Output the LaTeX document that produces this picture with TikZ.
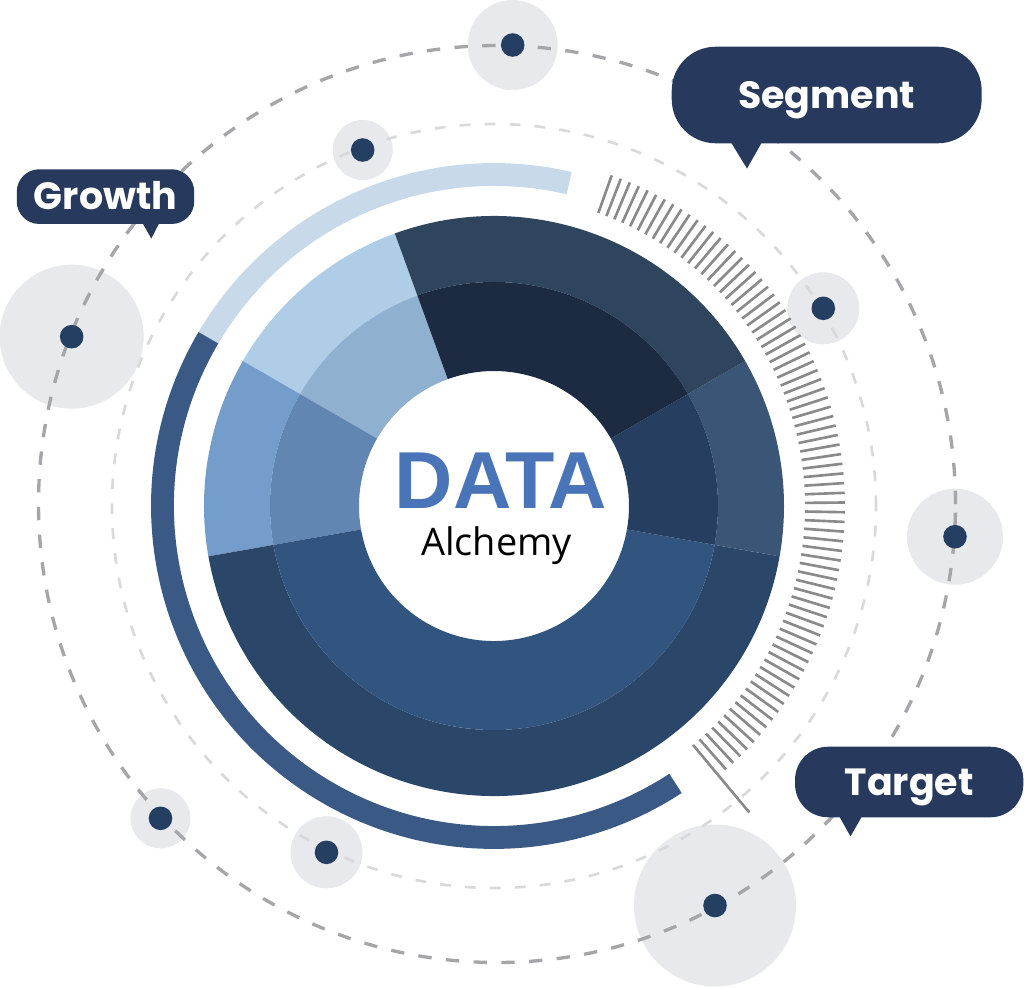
\documentclass[tikz,border=0pt]{standalone}
\usepackage{fontspec}
\usepackage{xcolor}
\usepackage{tikz}
\usetikzlibrary{positioning,calc}
\setmainfont{Open Sans}
\newfontfamily\datafont{Liberation Sans}
\newfontfamily\tagfont{Poppins}
\definecolor{navy}{RGB}{39, 58, 94}
\definecolor{dotblue}{RGB}{37, 63, 98}
\definecolor{bubblegray}{RGB}{232, 233, 237}
\definecolor{dashdark}{RGB}{166, 166, 170}
\definecolor{dashlight}{RGB}{217, 217, 220}
\definecolor{tickgray}{RGB}{138, 138, 138}
\definecolor{arclight}{RGB}{200, 218, 234}
\definecolor{arcdark}{RGB}{58, 90, 133}
\definecolor{datablue}{RGB}{74, 116, 184}
\definecolor{segAo}{RGB}{175, 205, 231}
\definecolor{segAi}{RGB}{143, 176, 207}
\definecolor{segBo}{RGB}{116, 157, 203}
\definecolor{segBi}{RGB}{97, 134, 178}
\definecolor{segCo}{RGB}{42, 70, 105}
\definecolor{segCi}{RGB}{50, 85, 127}
\definecolor{segDo}{RGB}{58, 85, 118}
\definecolor{segDi}{RGB}{38, 63, 96}
\definecolor{segEo}{RGB}{47, 69, 93}
\definecolor{segEi}{RGB}{28, 43, 66}

\begin{document}
\begin{tikzpicture}[scale=0.02,
    outerdash/.style={draw=dashdark, line width=1.9pt, dash pattern=on 7.6pt off 8.2pt},
    innerdash/.style={draw=dashlight, line width=1.5pt, dash pattern=on 6.1pt off 8.1pt},
    tickline/.style={draw=tickgray, line width=1.5pt},
    tagbox/.style={fill=navy, text=white, inner sep=0pt, text height=15.2pt, text depth=0pt,
                   font=\tagfont\bfseries\fontsize{21.6}{24}\selectfont}]
    \fill[white] (-494,-482) rectangle (530,506);
    \useasboundingbox (-494,-482) rectangle (530,506);

    % Burbujas y órbitas
    \foreach \x/\y/\r in {18.7/461/45, -131.3/356/30, -422.3/169.3/72, 329.3/197.7/36,
                          461/-30.7/48, -333.5/-312.3/30, -167.5/-346.3/36, 221/-399.5/81}
        \fill[bubblegray] (\x,\y) circle (\r);
    \draw[outerdash] (3,2) circle (458.5);
    \draw[innerdash] (0,0) circle (382);
    \foreach \x/\y in {18.7/461, -131.3/356, -422.3/169.3, 329.3/197.7,
                       461/-30.7, -333.5/-312.3, -167.5/-346.3, 221/-399.5}
        \fill[dotblue] (\x,\y) circle (11.8);

    % Anillo de datos
    \foreach \a/\b/\co/\ci in {110/150/segAo/segAi, 150/190/segBo/segBi, 190/350/segCo/segCi,
                               -10/30/segDo/segDi, 30/110/segEo/segEi} {
        \fill[\co] (\a:224) arc (\a:\b:224) -- (\b:290) arc (\b:\a:290) -- cycle;
        \fill[\ci] (\a:135) arc (\a:\b:135) -- (\b:224) arc (\b:\a:224) -- cycle;
    }

    % Arcos exteriores
    \draw[arclight, line width=13pt] (149.5:331.5) arc (149.5:76.9:331.5);
    \draw[arcdark, line width=13pt] (149.5:331.5) arc (149.5:303.2:331.5);

    % Marcas
    \foreach \i in {0,...,75}
        \draw[tickline] ({70.4-\i*1.587}:311) -- ({70.4-\i*1.587}:351);
    \draw[tickline] (-50.2:311) -- (-50.2:399);

    % Texto central
    \node[anchor=base, text=datablue, font=\datafont\bfseries\fontsize{46}{50}\selectfont] (data) at (7,-2.5) {DATA};
    \node[anchor=base, font=\fontsize{21.6}{24}\selectfont] (alchemy) at (2.5,-49.6) {Alchemy};

    % Etiquetas
    \node[tagbox, minimum width=3.55cm, minimum height=1.094cm, rounded corners=0.45cm] (growth) at (-388.5,309.4) {Growth};
    \fill[navy] (growth.south west) ++(126.6,0.5) -- ++(8.4,-14.8) -- ++(7.6,14.8) -- cycle;

    \node[tagbox, minimum width=6.2cm, minimum height=1.932cm, rounded corners=0.88cm] (segment) at (332.7,411) {Segment};
    \fill[navy] (segment.south west) ++(60,0.5) -- ++(15.6,-25.5) -- ++(14.4,25.5) -- cycle;

    \node[tagbox, minimum width=4.566cm, minimum height=1.412cm, rounded corners=0.66cm] (target) at (415.2,-276) {Target};
    \fill[navy] (target.south west) ++(45,0.5) -- ++(10.7,-19.2) -- ++(11,19.2) -- cycle;
\end{tikzpicture}
\end{document}
